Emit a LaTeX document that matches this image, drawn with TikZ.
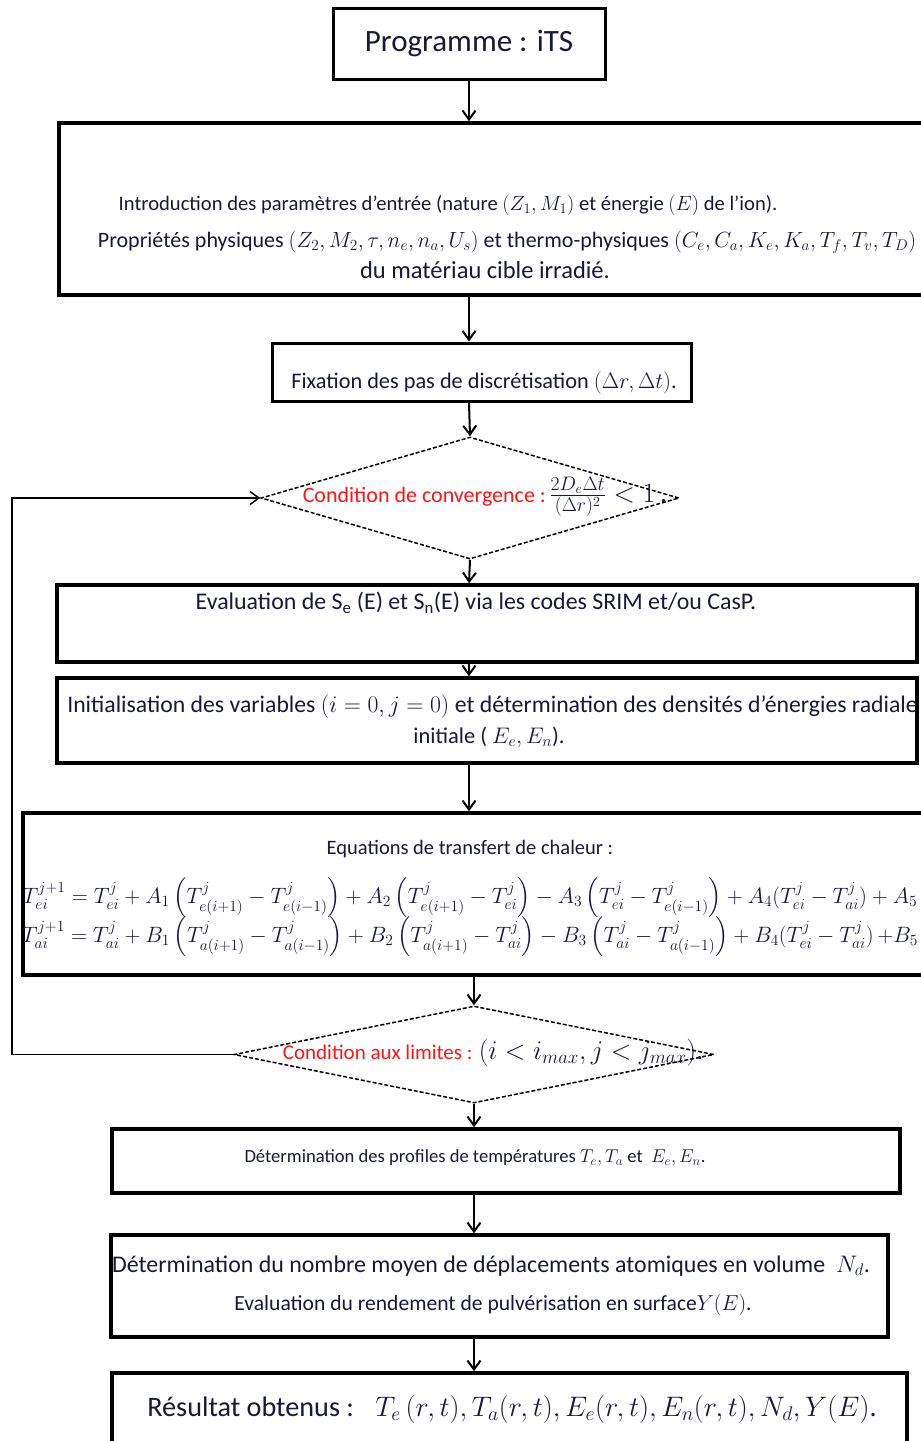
\RequirePackage{fix-cm}
\documentclass[tikz,border=0pt]{standalone}
\usepackage{amsmath,amssymb}
\usepackage{fontspec}
\setmainfont{Carlito}
\usepackage{tikz}
\usetikzlibrary{shapes.geometric,arrows.meta,calc,positioning}
\definecolor{inkblue}{RGB}{24,24,56}
\definecolor{condred}{RGB}{255,20,20}
\newcommand{\rd}[1]{\textcolor{condred}{#1}}
\newcommand{\fs}[1]{\fontsize{#1}{#1}\selectfont}

\begin{document}
\begin{tikzpicture}[x=1pt,y=-1pt,
    box/.style={draw,line width=3.5pt,inner sep=0pt},
    decision/.style={draw,shape=diamond,dash pattern=on 4pt off 2pt,line width=1.5pt,inner sep=0pt},
    txt/.style={text=inkblue,inner sep=0pt,font=\fs{19}},
    arr/.style={-{Straight Barb[length=9pt,width=13pt]},line width=2pt}]
  \useasboundingbox (0,0) rectangle (921,1441);
  \clip (0,0) rectangle (921,1441);
  \node[box,line width=3pt,minimum width=272pt,minimum height=71pt,text=inkblue,font=\fs{31}] (prog) at (469,43.5) {Programme : iTS};
  \node[box,minimum width=868pt,minimum height=172pt] (params) at (493,209) {};
  \node[box,line width=3pt,minimum width=419pt,minimum height=58pt] (fix) at (481.5,372) {};
  \node[decision,minimum width=418pt,minimum height=122pt] (conv) at (470,498) {};
  \node[box,minimum width=860pt,minimum height=77pt] (eval) at (487,623.5) {};
  \node[box,minimum width=860pt,minimum height=85pt] (init) at (487,720.5) {};
  \node[box,minimum width=904pt,minimum height=162pt] (eq) at (475,894) {};
  \node[decision,minimum width=480pt,minimum height=97pt] (lim) at (474,1054.5) {};
  \node[box,minimum width=788pt,minimum height=64pt] (prof) at (506,1161) {};
  \node[box,minimum width=777pt,minimum height=102pt] (nombre) at (499.5,1286) {};
  \node[box,minimum width=795pt,minimum height=97pt] (res) at (509.5,1421.5) {};
  \coordinate (back) at (12,1054.5);

  \node[txt,font=\fs{20.6}] (paramsA) at (448,205) {Introduction des paramètres d’entrée (nature $(Z_1,M_1)$ et énergie $(E)$ de l’ion).};
  \node[txt,font=\fs{22}] (paramsB) at (507,242) {Propriétés physiques $(Z_2,M_2,\tau,n_e,n_a,U_s)$ et thermo-physiques $(C_e,C_a,K_e,K_a,T_f,T_v,T_D)$};
  \node[txt,font=\fs{24.5}] (paramsC) at (485,270) {du matériau cible irradié.};
  \node[txt,font=\fs{22.3}] (fixA) at (484,383) {Fixation des pas de discrétisation $(\Delta r,\Delta t)$.};
  \node[txt,font=\fs{22}] (convA) at (485,497) {\rd{Condition de convergence :}\,{\fs{28}$\frac{2D_e\Delta t}{(\Delta r)^2}<1$\,.}};
  \node[txt,font=\fs{23.9}] (evalA) at (476,603) {Evaluation de S\textsubscript{e} (E) et S\textsubscript{n}(E) via les codes SRIM et/ou CasP.};
  \node[txt,font=\fs{23.75}] (initA) at (492.5,707) {Initialisation des variables $(i=0,j=0)$ et détermination des densités d’énergies radiale};
  \node[txt,font=\fs{22.5}] (initB) at (489,737) {initiale ( $E_e,E_n$).};
  \node[txt,font=\fs{20.5}] (eqA) at (470,849) {Equations de transfert de chaleur :};
  \node[txt,font=\fs{22.2}] (eqB) at (470,898) {$T_{ei}^{j+1}=T_{ei}^{j}+A_1\left(T^j_{e(i+1)}-T^j_{e(i-1)}\right)+A_2\left(T^j_{e(i+1)}-T^j_{ei}\right)-A_3\left(T^j_{ei}-T^j_{e(i-1)}\right)+A_4(T^j_{ei}-T^j_{ai})+A_5$};
  \node[txt,font=\fs{22.2}] (eqC) at (470,937) {$T_{ai}^{j+1}=T_{ai}^{j}+B_1\left(T^j_{a(i+1)}-T^j_{a(i-1)}\right)+B_2\left(T^j_{a(i+1)}-T^j_{ai}\right)-B_3\left(T^j_{ai}-T^j_{a(i-1)}\right)+B_4(T^j_{ei}-T^j_{ai})\,{+}B_5$};
  \node[txt,font=\fs{21}] (limA) at (493,1053) {\rd{Condition aux limites :} {\fs{27}$(i<i_{max},j<j_{max})$.}};
  \node[txt,font=\fs{18.6}] (profA) at (475,1158) {Détermination des profiles de températures $T_e,T_a$ et \ $E_e,E_n$.};
  \node[txt,font=\fs{23.9}] (nombreA) at (491,1266) {Détermination du nombre moyen de déplacements atomiques en volume \ $N_d$.};
  \node[txt,font=\fs{21.6}] (nombreB) at (493,1305) {Evaluation du rendement de pulvérisation en surface$Y(E)$.};
  \node[txt,font=\fs{28.2}] (resA) at (512,1409) {Résultat obtenus : \ \ $T_e\,(r,t),T_a(r,t),E_e(r,t),E_n(r,t),N_d,Y(E)$.};

  \draw[arr] (prog.south) -- (prog.south |- params.north);
  \draw[arr] (params.south -| prog) -- (fix.north -| prog);
  \draw[arr] (fix.south -| prog) -- (conv.north);
  \draw[arr] (conv.south) -- (eval.north -| prog);
  \draw[arr] (eval.south -| prog) -- (init.north -| prog);
  \draw[arr] (init.south -| prog) -- (eq.north -| prog);
  \draw[arr] (eq.south -| lim) -- (lim.north);
  \draw[arr] (lim.south) -- (prof.north -| lim);
  \draw[arr] (prof.south -| lim) -- (nombre.north -| lim);
  \draw[arr] (nombre.south -| lim) -- (res.north -| lim);
  \draw[arr,line width=1.5pt] (lim.west) -- (back) |- (conv.west);
\end{tikzpicture}
\end{document}
